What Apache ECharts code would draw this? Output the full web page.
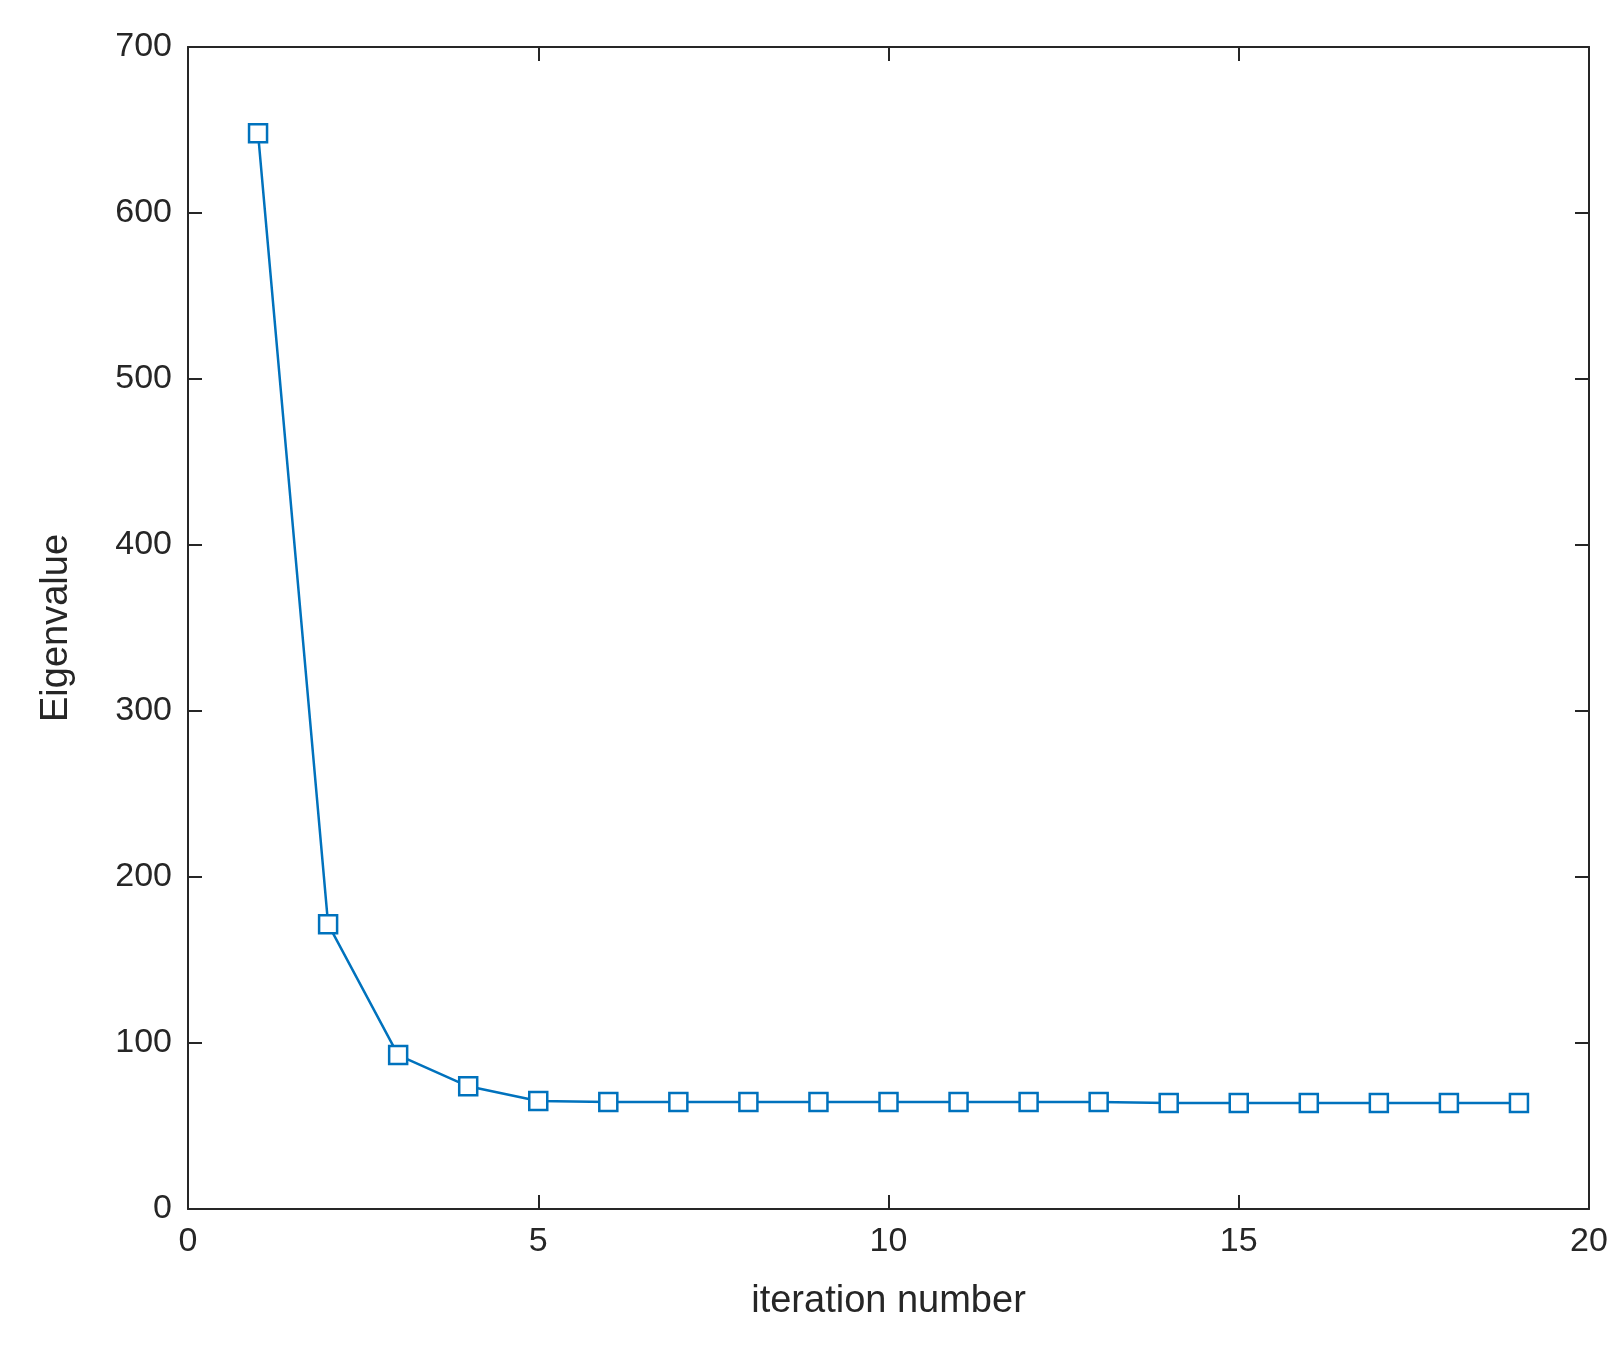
<!DOCTYPE html>
<html><head><meta charset="utf-8">
<script src="https://cdn.jsdelivr.net/npm/echarts@6/dist/echarts.min.js"></script>
<style>html,body{margin:0;background:#fff}#c{width:1622px;height:1350px}</style>
</head><body><div id="c"></div>
<script>
const iterations = [1,2,3,4,5,6,7,8,9,10,11,12,13,14,15,16,17,18,19];
const eigenvalues = [648,171.6,92.7,73.9,65.1,64.5,64.5,64.5,64.5,64.4,64.4,64.4,64.4,63.9,63.9,63.9,63.9,63.9,63.9];
const font = 'Liberation Sans, Arial, sans-serif';
const ax = {
  axisLine:{show:true,onZero:false,lineStyle:{color:'#262626',width:2}},
  axisTick:{show:true,inside:true,length:14,lineStyle:{color:'#262626',width:2}},
  splitLine:{show:false},
  axisLabel:{color:'#262626',fontSize:34,fontFamily:font,margin:16}
};
const chart = echarts.init(document.getElementById('c'));
chart.setOption({
  animation:false,
  grid:{left:188,top:47,width:1401,height:1162},
  xAxis:[
    Object.assign({type:'value',min:0,max:20,interval:5,position:'bottom',name:'iteration number',nameLocation:'middle',nameGap:74,nameTextStyle:{color:'#262626',fontSize:38,fontFamily:font}},ax),
    Object.assign({},ax,{type:'value',min:0,max:20,interval:5,position:'top',axisLabel:{show:false}})
  ],
  yAxis:[
    Object.assign({type:'value',min:0,max:700,interval:100,position:'left',name:'Eigenvalue',nameLocation:'middle',nameGap:112,nameTextStyle:{color:'#262626',fontSize:38,fontFamily:font}},ax),
    Object.assign({},ax,{type:'value',min:0,max:700,interval:100,position:'right',axisLabel:{show:false}})
  ],
  series:[{
    type:'line',
    data:iterations.map((x,i)=>[x,eigenvalues[i]]),
    symbol:'rect',symbolSize:18,
    lineStyle:{color:'#0072BD',width:2.5},
    itemStyle:{color:'#fff',borderColor:'#0072BD',borderWidth:2.5}
  }]
});
</script></body></html>
